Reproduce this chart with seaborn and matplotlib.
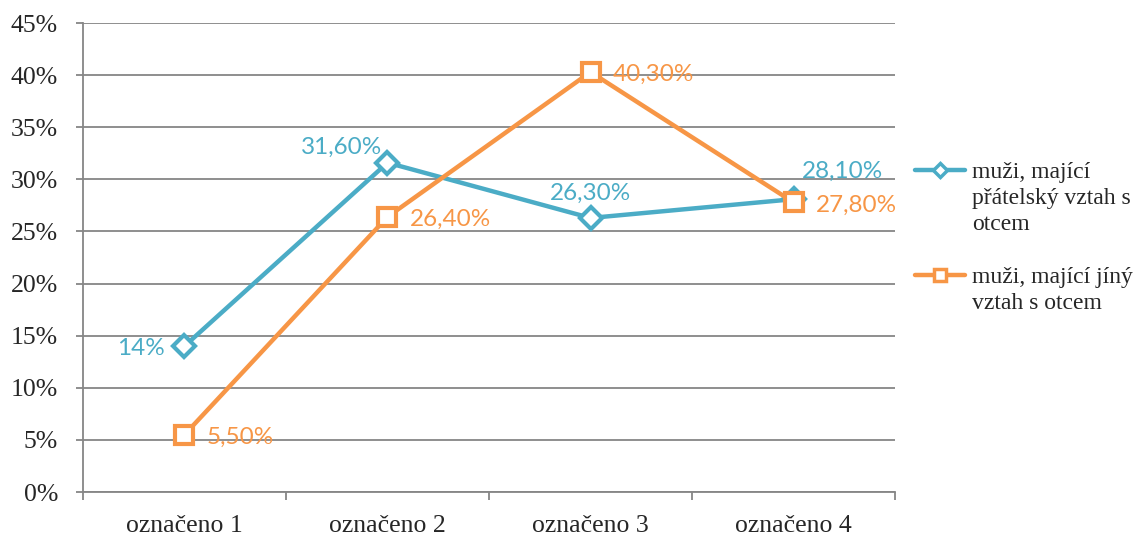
import pandas as pd
import numpy as np
import matplotlib.pyplot as plt
import seaborn as sns
from matplotlib.lines import Line2D
from matplotlib.ticker import FixedLocator, PercentFormatter

kategorie = ["označeno 1", "označeno 2", "označeno 3", "označeno 4"]
pratelsky = [14.0, 31.6, 26.3, 28.1]
jiny = [5.5, 26.4, 40.3, 27.8]
popisky_pratelsky = ["14%", "31,60%", "26,30%", "28,10%"]
popisky_jiny = ["5,50%", "26,40%", "40,30%", "27,80%"]
legenda_b = ["muži, mající", "přátelský vztah s", "otcem"]
legenda_o = ["muži, mající jíný", "vztah s otcem"]

modra = "#4BACC6"
oranzova = "#F79646"

sns.set_style("white")
plt.rcParams['font.family'] = ['Liberation Serif', 'DejaVu Serif']

fig = plt.figure(figsize=(11.38, 5.36), dpi=100)
ax = fig.add_axes([0.0729, 0.082, 0.7136, 0.875])

sns.lineplot(x=kategorie, y=pratelsky, color=modra, marker="D", linewidth=3.2,
             markersize=11, markerfacecolor="white", markeredgecolor=modra,
             markeredgewidth=3, ax=ax, sort=False)
sns.lineplot(x=kategorie, y=jiny, color=oranzova, marker="s", linewidth=3.2,
             markersize=12.5, markerfacecolor="white", markeredgecolor=oranzova,
             markeredgewidth=3, ax=ax, sort=False)

ax.set_ylim(0, 45)
ax.set_xlim(-0.5, 3.5)
ax.set_yticks(np.arange(0, 46, 5))
ax.yaxis.set_major_formatter(PercentFormatter(decimals=0))
ax.grid(axis="y", color="#868686", linewidth=1.3)
ax.set_axisbelow(True)
for s in ["top", "right"]:
    ax.spines[s].set_visible(False)
for s in ["left", "bottom"]:
    ax.spines[s].set_color("#868686")
    ax.spines[s].set_linewidth(1.3)
ax.tick_params(axis="y", which="major", left=True, length=5, color="#868686", width=1.3,
               labelsize=18.5, pad=13)
ax.tick_params(axis="x", which="major", bottom=False, labelsize=18.5, pad=13)
ax.xaxis.set_minor_locator(FixedLocator([-0.5, 0.5, 1.5, 2.5, 3.5]))
ax.tick_params(axis="x", which="minor", bottom=True, length=6, color="#868686", width=1.3)
ax.set_xlabel("")
ax.set_ylabel("")

lab_font = ['Lato', 'DejaVu Sans']
off_b = [(-14, -2, "right", "center"), (-4, 11, "right", "center"),
         (0, 18, "center", "center"), (6, 20, "left", "center")]
for i, (v, t) in enumerate(zip(pratelsky, popisky_pratelsky)):
    dx, dy, ha, va = off_b[i]
    ax.annotate(t, (i, v), xytext=(dx, dy), textcoords="offset points",
                ha=ha, va=va, color=modra, fontsize=17.5, family=lab_font)
for i, (v, t) in enumerate(zip(jiny, popisky_jiny)):
    ax.annotate(t, (i, v), xytext=(16, -2), textcoords="offset points",
                ha="left", va="center", color=oranzova, fontsize=17.5, family=lab_font)

# legend: one row per text line, handle only on first line of each entry
prazdny = Line2D([], [], linestyle="none")
h_b = Line2D([], [], color=modra, linewidth=3.2, marker="D", markersize=7,
             markerfacecolor="white", markeredgecolor=modra, markeredgewidth=2.5)
h_o = Line2D([], [], color=oranzova, linewidth=3.2, marker="s", markersize=8,
             markerfacecolor="white", markeredgecolor=oranzova, markeredgewidth=2.5)
handles = [h_b, prazdny, prazdny, prazdny, h_o, prazdny]
labels = legenda_b + [""] + legenda_o
ax.legend(handles, labels, loc="upper left", bbox_to_anchor=(1.025, 0.705), frameon=False,
          fontsize=17, handlelength=2.1, handletextpad=0.3, labelspacing=0.2,
          borderaxespad=0, borderpad=0)

fig.savefig("out.png", dpi=100)
